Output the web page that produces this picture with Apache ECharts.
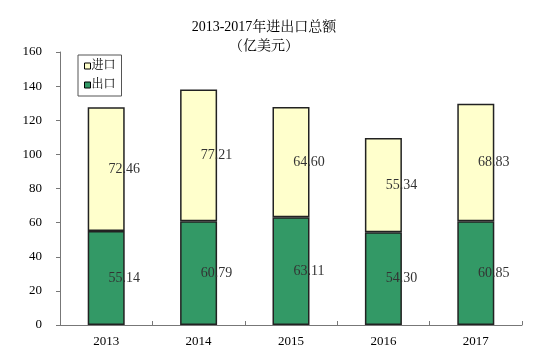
<!DOCTYPE html>
<html><head><meta charset="utf-8">
<script src="https://cdn.jsdelivr.net/npm/echarts@6/dist/echarts.min.js"></script>
<style>html,body{margin:0;padding:0;background:#fff}#c{width:549px;height:360px}</style>
</head><body><div id="c"></div>
<script>
const categories = ['2013','2014','2015','2016','2017'];
const exportVals = [55.14, 60.79, 63.11, 54.30, 60.85];
const importVals = [72.46, 77.21, 64.60, 55.34, 68.83];
const yTicks = [0,20,40,60,80,100,120,140,160];

const FONT = '"Liberation Serif","Noto Serif CJK SC","Noto Sans CJK SC",serif';
const chart = echarts.init(document.getElementById('c'));
const lbl = {show:true, position:'inside', offset:[18,0], color:'#333', fontFamily:FONT, fontSize:14,
  formatter: p => p.value.toFixed(2)};
chart.setOption({
  animation:false,
  title:{text:'2013-2017年进出口总额\n（亿美元）', left:259, top:13, textAlign:'center',
    textStyle:{fontFamily:FONT, fontSize:14, fontWeight:'normal', color:'#000', lineHeight:19}},
  legend:{orient:'vertical', left:78, top:55, itemWidth:6, itemHeight:6, itemGap:7,
    padding:[5,6,5,6], borderColor:'#555', borderWidth:1, icon:'rect',
    data:['进口','出口'],
    itemStyle:{borderColor:'#000', borderWidth:1},
    textStyle:{fontFamily:FONT, fontSize:12, color:'#000', padding:[0,0,0,-4]}},
  grid:{left:60, right:27, top:52, bottom:35, containLabel:false},
  xAxis:{type:'category', data:categories,
    axisLine:{lineStyle:{color:'#777'}},
    axisTick:{show:true, inside:true, length:4, lineStyle:{color:'#777'}},
    axisLabel:{fontFamily:FONT, fontSize:13, color:'#000', margin:10}},
  yAxis:{type:'value', min:0, max:160, interval:20,
    axisLine:{show:true, lineStyle:{color:'#777'}},
    axisTick:{show:true, length:4, lineStyle:{color:'#777'}},
    splitLine:{show:false},
    axisLabel:{fontFamily:FONT, fontSize:13, color:'#000', margin:18,
      formatter: v => yTicks.includes(v) ? String(v) : ''}},
  series:[
    {name:'出口', type:'bar', stack:'t', data:exportVals, barWidth:37,
      itemStyle:{color:'#339966', borderColor:'#222', borderWidth:1.5}, label:lbl},
    {name:'进口', type:'bar', stack:'t', data:importVals, barWidth:37,
      itemStyle:{color:'#FFFFCC', borderColor:'#222', borderWidth:1.5}, label:lbl}
  ]
});
</script></body></html>
